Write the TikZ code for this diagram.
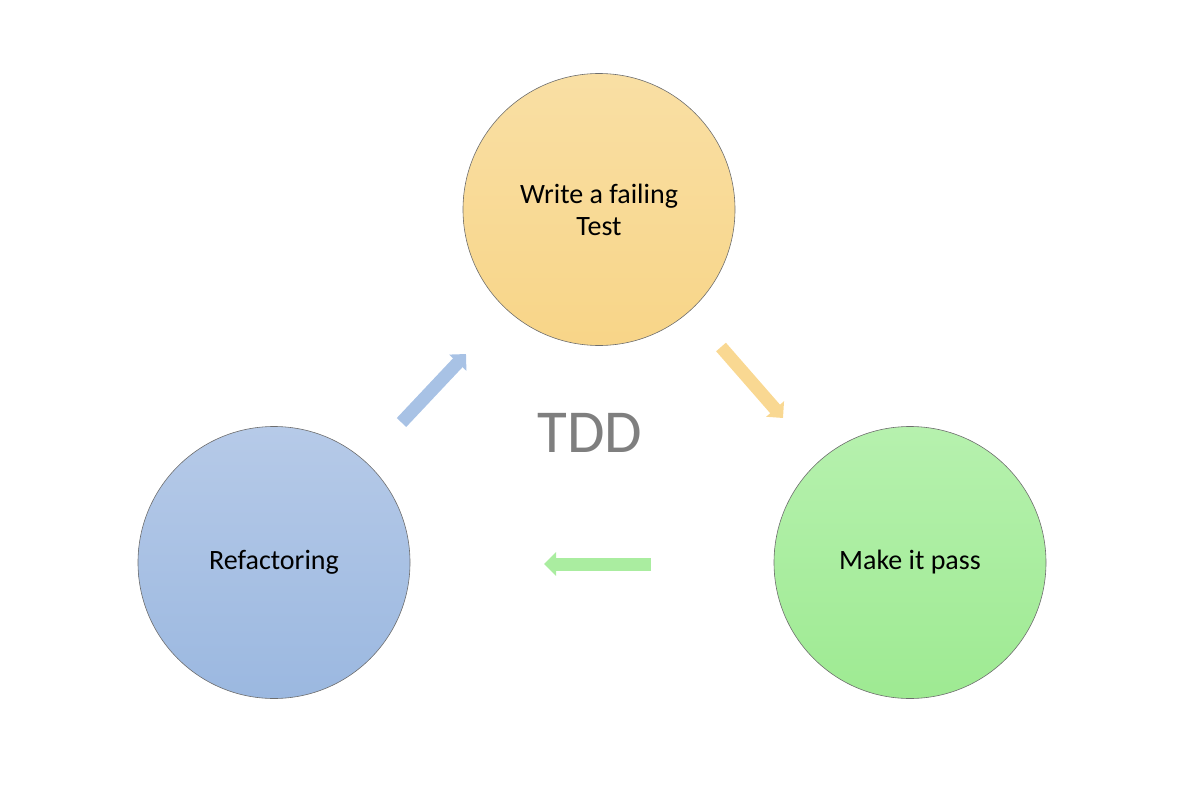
\documentclass[tikz,border=0pt]{standalone}
\usepackage{fontspec}
\setmainfont{Carlito}
\usetikzlibrary{arrows.meta}
\definecolor{orT}{RGB}{249,223,164}
\definecolor{orB}{RGB}{248,213,136}
\definecolor{blT}{RGB}{182,202,232}
\definecolor{blB}{RGB}{155,184,224}
\definecolor{grT}{RGB}{182,241,174}
\definecolor{grB}{RGB}{158,234,146}
\definecolor{orA}{RGB}{249,216,146}
\definecolor{blA}{RGB}{168,194,229}
\definecolor{grA}{RGB}{170,237,160}
\definecolor{tddgray}{RGB}{127,127,127}
\definecolor{rim}{RGB}{110,110,110}
\tikzset{
  stage/.style={circle, minimum size=272pt, inner sep=0pt, draw=rim, line width=0.6pt,
    align=center, font=\fontsize{28}{32}\selectfont, text=black},
  blockarrow/.style={line width=13pt, line cap=butt, -{Triangle[length=12pt,width=23pt]}},
}
\begin{document}
\begin{tikzpicture}[x=1pt,y=-1pt]
\useasboundingbox (0,0) rectangle (1202,800);
\node[stage, top color=orT, bottom color=orB] (write) at (599,209.5) {Write a failing\\Test};
\node[stage, top color=blT, bottom color=blB] (refac) at (274,562.5) {Refactoring};
\node[stage, top color=grT, bottom color=grB] (pass) at (910,562.5) {Make it pass};
\node[text=tddgray, font=\fontsize{61}{70}\selectfont] (tdd) at (590,433) {TDD};
\coordinate (b1) at (401.5,422.5);
\coordinate (b2) at (466,354);
\coordinate (o1) at (721,347);
\coordinate (o2) at (783,418);
\coordinate (g1) at (651,564);
\coordinate (g2) at (544,564);
\draw[blockarrow, draw=blA] (b1) -- (b2);
\draw[blockarrow, draw=orA] (o1) -- (o2);
\draw[blockarrow, draw=grA] (g1) -- (g2);
\end{tikzpicture}
\end{document}
